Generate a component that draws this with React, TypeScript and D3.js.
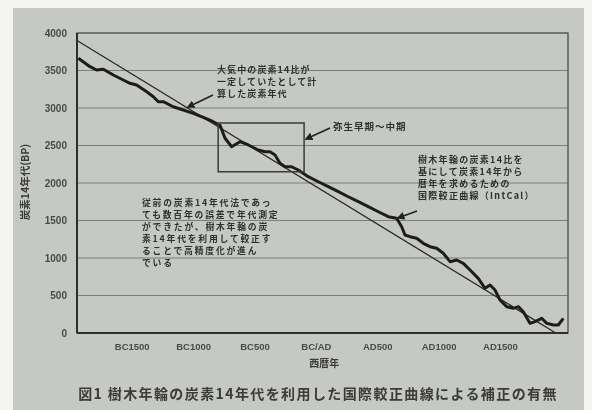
import React from "react";
import * as d3 from "d3";

// Radiocarbon data
const calYears = [-1939,-1844,-1790,-1736,-1654,-1573,-1518,-1464,-1382,-1328,-1288,-1247,-1166,-1084,-1003,-921,-840,-785,-744,-690,-622,-554,-473,-418,-378,-337,-296,-255,-201,-147,-66,16,97,179,260,342,423,505,586,654,695,722,763,817,871,926,980,1034,1089,1143,1197,1252,1319,1374,1415,1455,1496,1550,1605,1645,1686,1740,1781,1836,1877,1931,1971,2012];
const intcalBP = [3663,3551,3507,3516,3440,3373,3329,3307,3217,3151,3084,3084,3017,2973,2929,2876,2817,2770,2596,2484,2551,2507,2440,2417,2417,2373,2263,2217,2217,2173,2084,2017,1951,1884,1817,1751,1684,1617,1551,1529,1417,1307,1284,1263,1196,1151,1129,1063,951,973,929,840,729,596,640,573,440,351,329,351,284,129,151,196,129,107,107,196];

const straightYears = [-1950, 1950];
const straightBP = [3900, 0];

const yTicks = [0, 500, 1000, 1500, 2000, 2500, 3000, 3500, 4000];
const xTickYears = [-1500, -1000, -500, 0, 500, 1000, 1500];
const xTickLabels = ["BC1500", "BC1000", "BC500", "BC/AD", "AD500", "AD1000", "AD1500"];

const boxYears = [-800, -100];
const boxBP = [2150, 2800];

const note1 = ["大気中の炭素14比が", "一定していたとして計", "算した炭素年代"];
const note2 = ["弥生早期～中期"];
const note3 = ["樹木年輪の炭素14比を", "基にして炭素14年から", "暦年を求めるための", "国際較正曲線（IntCal）"];
const note4 = ["従前の炭素14年代法であっ", "ても数百年の誤差で年代測定", "ができたが、樹木年輪の炭", "素14年代を利用して較正す", "ることで高精度化が進ん", "でいる"];

const caption = "図1 樹木年輪の炭素14年代を利用した国際較正曲線による補正の有無";

const W = 592, H = 410;
const L = 77, R = 568, T = 33, B = 333;

export default function App() {
  const x = d3.scaleLinear().domain([-1950, 2050]).range([L, R]);
  const y = d3.scaleLinear().domain([0, 4000]).range([B, T]);

  const line = d3.line<[number, number]>().x(d => x(d[0])).y(d => y(d[1]));
  const curvePts: [number, number][] = calYears.map((c, i) => [c, intcalBP[i]]);
  const straightPts: [number, number][] = straightYears.map((c, i) => [c, straightBP[i]]);

  const jp = "'Noto Sans CJK JP', sans-serif";
  const txt = "#2f302e";

  return (
    <svg width={W} height={H} style={{ position: "absolute", left: 0, top: 0 }}>
      <defs>
        <marker id="ah" viewBox="0 0 10 10" refX="8" refY="5" markerWidth="5" markerHeight="5" orient="auto">
          <path d="M0,0 L10,5 L0,10 z" fill="#222" />
        </marker>
        <filter id="soft" x="-5%" y="-5%" width="110%" height="110%">
          <feGaussianBlur stdDeviation="0.45" />
        </filter>
      </defs>
      <rect x={0} y={0} width={W} height={H} fill="#f4f4f2" />
      <rect x={13} y={8} width={571} height={H - 8} fill="#c6c9c3" />
      <g filter="url(#soft)">
        {yTicks.filter(v => v > 0 && v < 4000).map(v => (
          <line key={v} x1={L} x2={R} y1={y(v)} y2={y(v)} stroke="#7b7e79" strokeWidth={1} />
        ))}
        <rect x={L} y={T} width={R - L} height={B - T} fill="none" stroke="#4a4b48" strokeWidth={1.3} />
        <line x1={L} x2={L} y1={T} y2={B} stroke="#2e2f2d" strokeWidth={2} />
        <line x1={L} x2={R} y1={B} y2={B} stroke="#2e2f2d" strokeWidth={2} />

        {yTicks.map(v => (
          <text key={v} x={67} y={y(v)} dy="0.35em" textAnchor="end" fontFamily="'Liberation Sans', Arial, sans-serif" fontSize={10} fontWeight="bold" fill="#4a4b48">{v}</text>
        ))}
        {xTickYears.map((v, i) => (
          <text key={v} x={x(v)} y={347} dy="0.35em" textAnchor="middle" fontFamily="'Liberation Sans', Arial, sans-serif" fontSize={9.5} fontWeight="bold" fill="#4a4b48">{xTickLabels[i]}</text>
        ))}
        <text x={x(0) + 8} y={363} dy="0.35em" textAnchor="middle" fontFamily={jp} fontSize={10} fontWeight="bold" fill="#3a3b39">西暦年</text>
        <text transform="translate(25,182) rotate(-90)" textAnchor="middle" dy="0.35em" fontFamily={jp} fontSize={10.5} fontWeight="bold" fill="#3a3b39">炭素14年代(BP)</text>

        <path d={line(straightPts) || ""} fill="none" stroke="#2a2a28" strokeWidth={1.3} />
        <path d={line(curvePts) || ""} fill="none" stroke="#1e1e1c" strokeWidth={3} strokeLinejoin="round" />

        <rect x={x(boxYears[0])} y={y(boxBP[1])} width={x(boxYears[1]) - x(boxYears[0])} height={y(boxBP[0]) - y(boxBP[1])} fill="none" stroke="#3a3b39" strokeWidth={1.5} />

        {note1.map((s, i) => (
          <text key={i} x={217} y={70 + i * 12} dy="0.35em" fontFamily={jp} fontSize={9} fontWeight="bold" letterSpacing={1.1} fill={txt}>{s}</text>
        ))}
        <line x1={213} y1={95} x2={188} y2={107} stroke="#222" strokeWidth={1.6} markerEnd="url(#ah)" />

        {note2.map((s, i) => (
          <text key={i} x={333} y={127} dy="0.35em" fontFamily={jp} fontSize={9.5} fontWeight="bold" letterSpacing={1} fill={txt}>{s}</text>
        ))}
        <line x1={330} y1={128} x2={306} y2={139} stroke="#222" strokeWidth={1.6} markerEnd="url(#ah)" />

        {note3.map((s, i) => (
          <text key={i} x={418} y={160 + i * 12} dy="0.35em" fontFamily={jp} fontSize={9} fontWeight="bold" letterSpacing={1.3} fill={txt}>{s}</text>
        ))}
        <line x1={417} y1={211} x2={398} y2={218} stroke="#222" strokeWidth={1.6} markerEnd="url(#ah)" />

        {note4.map((s, i) => (
          <text key={i} x={142} y={203 + i * 12} dy="0.35em" fontFamily={jp} fontSize={8.8} fontWeight="bold" letterSpacing={1.8} fill={txt}>{s}</text>
        ))}

        <text x={318} y={394} dy="0.35em" textAnchor="middle" fontFamily={jp} fontSize={14} fontWeight="bold" letterSpacing={1.4} fill="#3a3b39">{caption}</text>
      </g>
    </svg>
  );
}
